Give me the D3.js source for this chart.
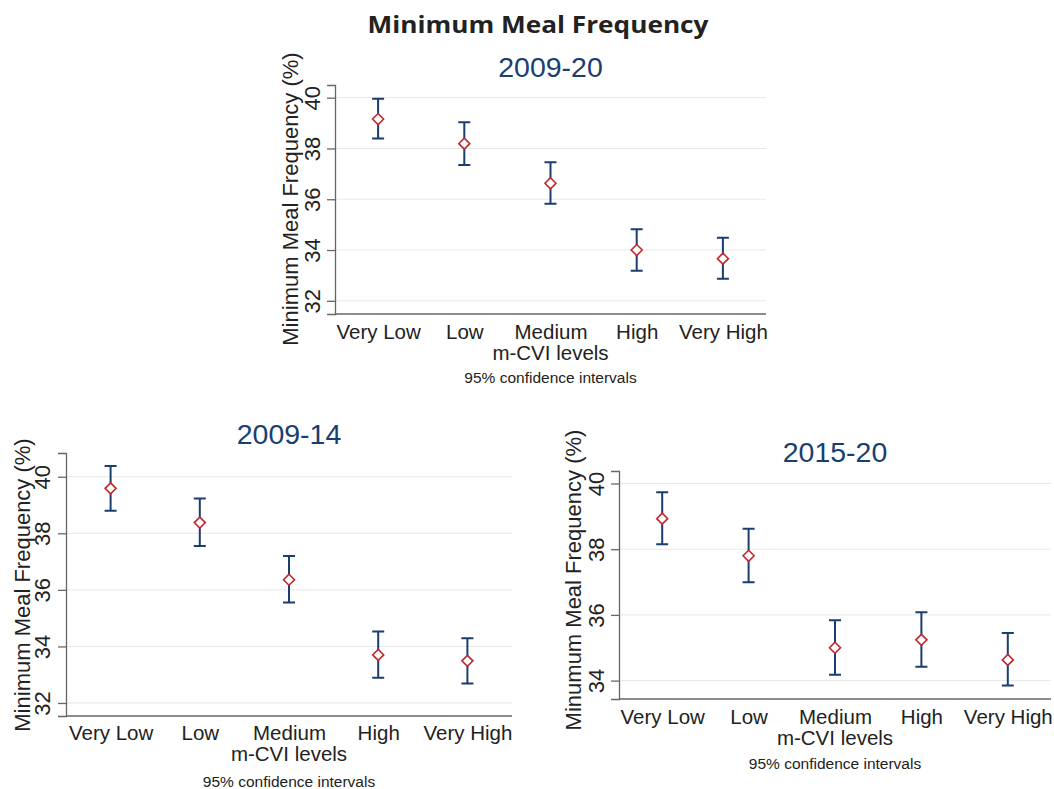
<!DOCTYPE html>
<html>
<head>
<meta charset="utf-8">
<script src="https://cdn.jsdelivr.net/npm/d3@7"></script>
<style>
  html, body { margin: 0; padding: 0; background: #fff; }
  svg { display: block; }
</style>
</head>
<body>
<svg id="chart" width="1054" height="789"></svg>
<script>
// m-CVI levels shared by all three panels
const categories = ["Very Low", "Low", "Medium", "High", "Very High"];

// 2009-20: point estimate and 95% CI bounds
const mean0920  = [39.16, 38.19, 36.63, 34.00, 33.66];
const lower0920 = [38.39, 37.35, 35.82, 33.18, 32.87];
const upper0920 = [39.96, 39.03, 37.46, 34.82, 34.48];
const ticks0920 = [32, 34, 36, 38, 40];

// 2009-14
const mean0914  = [39.59, 38.38, 36.36, 33.70, 33.49];
const lower0914 = [38.80, 37.55, 35.55, 32.89, 32.69];
const upper0914 = [40.38, 39.23, 37.20, 34.53, 34.29];
const ticks0914 = [32, 34, 36, 38, 40];

// 2015-20
const mean1520  = [38.93, 37.80, 35.00, 35.24, 34.63];
const lower1520 = [38.15, 36.99, 34.18, 34.42, 33.85];
const upper1520 = [39.73, 38.62, 35.84, 36.08, 35.45];
const ticks1520 = [34, 36, 38, 40];

const svg = d3.select("#chart");
const NAVY = "#1a3e70";
const RED = "#c1272d";
const FONT = "'Liberation Sans', Arial, sans-serif";

svg.append("text")
  .attr("x", 538).attr("y", 33)
  .attr("text-anchor", "middle")
  .attr("font-family", "'Open Sans', Inter, sans-serif")
  .attr("font-weight", 700)
  .attr("font-size", 24)
  .attr("fill", "#222")
  .attr("textLength", 341)
  .attr("lengthAdjust", "spacingAndGlyphs")
  .text("Minimum Meal Frequency");

function panel(cfg) {
  const g = svg.append("g");
  const x = d3.scalePoint().domain(categories)
    .range([cfg.left, cfg.right]).padding(0.5);
  const y = d3.scaleLinear().domain(cfg.yDomain).range([cfg.bottom, cfg.top]);

  // horizontal gridlines
  g.append("g").selectAll("line").data(cfg.ticks).join("line")
    .attr("x1", cfg.left).attr("x2", cfg.right)
    .attr("y1", d => y(d)).attr("y2", d => y(d))
    .attr("stroke", "#e8e8e8").attr("stroke-width", 1);

  // y axis with rotated tick labels
  const yAxis = g.append("g")
    .attr("transform", `translate(${cfg.left},0)`)
    .call(d3.axisLeft(y).tickValues(cfg.ticks).tickSize(8).tickFormat(d3.format("d")));
  yAxis.select(".domain").attr("stroke", "#666").attr("stroke-width", 1.3);
  yAxis.selectAll(".tick line").attr("stroke", "#666").attr("stroke-width", 1.3);
  yAxis.selectAll(".tick text")
    .attr("font-family", FONT).attr("font-size", cfg.fsTick).attr("fill", "#222")
    .attr("x", 0).attr("dy", 0)
    .attr("text-anchor", "middle")
    .attr("transform", `translate(${-cfg.tickOff},0) rotate(-90)`);

  // x axis, no tick marks
  const xAxis = g.append("g")
    .attr("transform", `translate(0,${cfg.bottom})`)
    .call(d3.axisBottom(x).tickSize(0).tickSizeOuter(0));
  xAxis.select(".domain").attr("stroke", "#666").attr("stroke-width", 1.3)
    .attr("d", `M${cfg.left},0H${cfg.right}`);
  xAxis.selectAll(".tick text")
    .attr("font-family", FONT).attr("font-size", cfg.fs).attr("fill", "#222")
    .attr("y", cfg.catOff).attr("dy", 0);

  // axis titles
  g.append("text")
    .attr("transform", `translate(${cfg.yTitleX},${cfg.yTitleY}) rotate(-90)`)
    .attr("text-anchor", "middle")
    .attr("font-family", FONT).attr("font-size", cfg.fsTitle).attr("fill", "#222")
    .text(cfg.yTitle);
  const mid = (cfg.left + cfg.right) / 2;
  g.append("text")
    .attr("x", mid).attr("y", cfg.bottom + cfg.catOff + 21)
    .attr("text-anchor", "middle")
    .attr("font-family", FONT).attr("font-size", cfg.fs).attr("fill", "#222")
    .text("m-CVI levels");
  g.append("text")
    .attr("x", mid).attr("y", cfg.bottom + cfg.noteOff)
    .attr("text-anchor", "middle")
    .attr("font-family", FONT).attr("font-size", 15.5).attr("fill", "#222")
    .text("95% confidence intervals");
  g.append("text")
    .attr("x", mid).attr("y", cfg.titleY)
    .attr("text-anchor", "middle")
    .attr("font-family", FONT).attr("font-size", 28.5).attr("fill", NAVY)
    .text(cfg.title);

  // confidence intervals
  const rows = categories.map((c, i) => ({ c, m: cfg.mean[i], lo: cfg.lower[i], hi: cfg.upper[i] }));
  const ci = g.append("g").attr("stroke", NAVY).attr("stroke-width", 2).attr("fill", "none");
  ci.selectAll("path").data(rows).join("path")
    .attr("d", d => {
      const cx = x(d.c), y1 = y(d.hi), y2 = y(d.lo), w = 6;
      return `M${cx},${y1}V${y2}M${cx - w},${y1}H${cx + w}M${cx - w},${y2}H${cx + w}`;
    });

  // hollow diamond markers
  g.append("g").selectAll("path").data(rows).join("path")
    .attr("transform", d => `translate(${x(d.c)},${y(d.m)})`)
    .attr("d", "M0,-5.5L5.5,0L0,5.5L-5.5,0Z")
    .attr("fill", "#fff").attr("stroke", RED).attr("stroke-width", 1.6);
}

panel({
  title: "2009-20", yTitle: "Minimum Meal Frequency (%)",
  left: 335, right: 766, top: 85, bottom: 314, yDomain: [31.48, 40.5],
  ticks: ticks0920, mean: mean0920, lower: lower0920, upper: upper0920,
  fs: 20.5, fsTick: 22, fsTitle: 22, tickOff: 15, yTitleX: 298, yTitleY: 199,
  catOff: 25, noteOff: 69, titleY: 77
});

panel({
  title: "2009-14", yTitle: "Minimum Meal Frequency (%)",
  left: 66, right: 512, top: 453, bottom: 716, yDomain: [31.54, 40.84],
  ticks: ticks0914, mean: mean0914, lower: lower0914, upper: upper0914,
  fs: 20.5, fsTick: 22, fsTitle: 22, tickOff: 16, yTitleX: 30, yTitleY: 585,
  catOff: 24, noteOff: 71, titleY: 444
});

panel({
  title: "2015-20", yTitle: "Minumum Meal Frequency (%)",
  left: 619, right: 1051, top: 471, bottom: 699, yDomain: [33.44, 40.38],
  ticks: ticks1520, mean: mean1520, lower: lower1520, upper: upper1520,
  fs: 20.5, fsTick: 22, fsTitle: 22, tickOff: 15, yTitleX: 581, yTitleY: 580,
  catOff: 25, noteOff: 70, titleY: 462
});
</script>
</body>
</html>
